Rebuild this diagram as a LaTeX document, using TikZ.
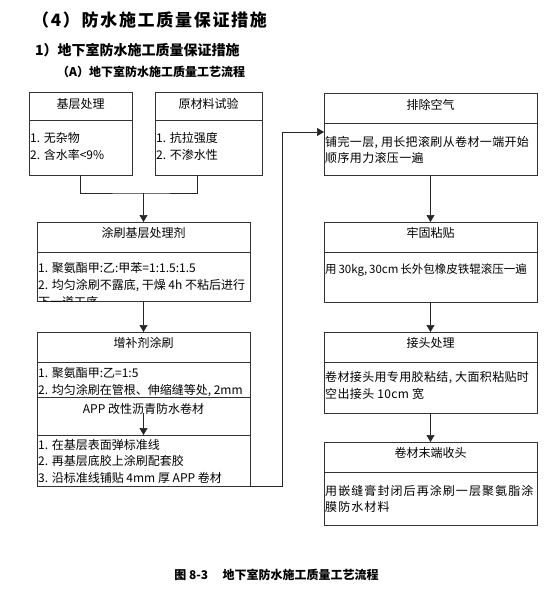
\documentclass[tikz,border=0pt]{standalone}
\usepackage{fontspec}
\setmainfont{Noto Sans CJK SC}
\usetikzlibrary{arrows.meta,calc}
\tikzset{
  bx/.style={draw=black!80, line width=0.7pt, inner sep=0pt, outer sep=0pt, anchor=north west, minimum width=#1},
  bx/.default=213pt,
  ttl/.style={font=\fontsize{12}{14}\selectfont, inner sep=0pt, anchor=center},
  bdy/.style={font=\fontsize{12}{17}\selectfont, inner sep=0pt, anchor=north west, align=left},
  con/.style={draw=black!85, line width=0.7pt},
  arr/.style={con, -{Triangle[width=8pt,length=7pt]}},
}
\begin{document}
\begin{tikzpicture}[x=1pt,y=-1pt]
\useasboundingbox[fill=white] (0,0) rectangle (555,600);

% headings
\node[font=\fontsize{17}{20}\selectfont\bfseries\addfontfeatures{LetterSpace=10}, inner sep=0pt, anchor=west] (h1) at (32,20) {（4）防水施工质量保证措施};
\node[font=\fontsize{14}{16}\selectfont\bfseries, inner sep=0pt, anchor=west] (h2) at (35,50) {1）地下室防水施工质量保证措施};
\node[font=\fontsize{12}{14}\selectfont\bfseries, inner sep=0pt, anchor=west] (h3) at (57,72) {（A）地下室防水施工质量工艺流程};
\node[font=\fontsize{12}{14}\selectfont\bfseries, inner sep=0pt] (cap) at (276.5,575) {图 8-3\hspace{1.2em}地下室防水施工质量工艺流程};

% left column boxes
\node[bx=103pt, minimum height=28pt] (b1t) at (29,92) {};
\node[bx=103pt, minimum height=55pt] (b1b) at (29,120) {};
\node[bx=107pt, minimum height=28pt] (b2t) at (155,92) {};
\node[bx=107pt, minimum height=55pt] (b2b) at (155,120) {};
\node[bx, minimum height=30pt] (ct) at (37,222) {};
\node[bx, minimum height=49pt] (cb) at (37,252) {};
\node[bx, minimum height=30pt] (dt) at (37,332) {};
\node[bx, minimum height=51pt] (db) at (37,362) {};

% right column boxes
\node[bx, minimum height=30pt] (pt) at (324,93) {};
\node[bx, minimum height=52pt] (pb) at (324,123) {};
\node[bx, minimum height=30pt] (gt) at (324,222) {};
\node[bx, minimum height=50pt] (gb) at (324,252) {};
\node[bx, minimum height=30pt] (jt) at (324,332) {};
\node[bx, minimum height=51pt] (jb) at (324,362) {};
\node[bx, minimum height=30pt] (mt) at (324,442) {};
\node[bx, minimum height=53pt] (mb) at (324,472) {};

% titles
\node[ttl] (b1l) at ($(b1t.north)+(0,12)$) {基层处理};
\node[ttl] (b2l) at ($(b2t.north)+(0,12)$) {原材料试验};
\node[ttl] (cl) at ($(ct.north)+(0,11)$) {涂刷基层处理剂};
\node[ttl] (dl) at ($(dt.north)+(0,11)$) {增补剂涂刷};
\node[ttl] (pl) at ($(pt.north)+(0,12)$) {排除空气};
\node[ttl] (gl) at ($(gt.north)+(0,11)$) {牢固粘贴};
\node[ttl] (jl) at ($(jt.north)+(0,11)$) {接头处理};
\node[ttl] (ml) at ($(mt.north)+(0,11)$) {卷材末端收头};

% bodies
\node[bdy] (b1x) at (30,132) {1. 无杂物\\2. 含水率<9\%};
\node[bdy] (b2x) at (156,132) {1. 抗拉强度\\2. 不渗水性};
\begin{scope}
\clip (cb.north west) rectangle (cb.south east);
\node[bdy] (cx) at (38,262) {1. 聚氨酯甲:乙:甲苯=1:1.5:1.5\\2. 均匀涂刷不露底, 干燥 4h 不粘后进行\\下一道工序};
\end{scope}
\node[bdy] (dx) at (38,367) {1. 聚氨酯甲:乙=1:5\\2. 均匀涂刷在管根、伸缩缝等处, 2mm};

% APP box overlapping
\node[bx, minimum height=38pt, fill=white] (at) at (37,397) {};
\node[bx, minimum height=51pt] (ab) at (37,435) {};
\node[ttl] (al) at ($(at.north)+(0,12)$) {APP 改性沥青防水卷材};
\node[bdy, font=\fontsize{12}{16.5}\selectfont] (ax) at (38,439) {1. 在基层表面弹标准线\\2. 再基层底胶上涂刷配套胶\\3. 沿标准线铺贴 4mm 厚 APP 卷材};

\node[bdy, font=\fontsize{12}{16}\selectfont\addfontfeatures{LetterSpace=3}] (px) at (325,136) {铺完一层, 用长把滚刷从卷材一端开始\\顺序用力滚压一遍};
\node[bdy, font=\fontsize{11.5}{17}\selectfont] (gx) at (325,264) {用\,30kg,\,30cm\,长外包橡皮铁辊滚压一遍};
\node[bdy, font=\fontsize{12}{17}\selectfont\addfontfeatures{LetterSpace=3}] (jx) at (325,371) {卷材接头用专用胶粘结, 大面积粘贴时\\空出接头 10cm 宽};
\node[bdy, font=\fontsize{12}{16}\selectfont\addfontfeatures{LetterSpace=9}] (mx) at (325,485) {用嵌缝膏封闭后再涂刷一层聚氨脂涂\\膜防水材料};

% connectors
\coordinate (m) at (143.5,193);
\coordinate (c2) at (197,175);
\draw[con] (b1b.south) |- (m) -| (c2);
\draw[arr] (m) -- (ct.north);
\draw[arr] (cb.south) -- (dt.north);
\draw[arr] (db.south) -- (ab.north);
\coordinate (k1) at (282,486);
\coordinate (k2) at (282,132);
\draw[arr] (ab.south east) -- (k1) -- (k2) -- (k2 -| pb.west);
\draw[arr] (pb.south) -- (gt.north);
\draw[arr] (gb.south) -- (jt.north);
\draw[arr] (jb.south) -- (mt.north);
\end{tikzpicture}
\end{document}
